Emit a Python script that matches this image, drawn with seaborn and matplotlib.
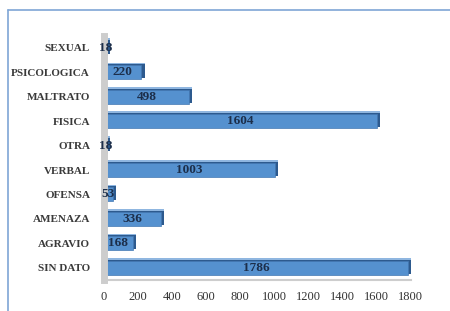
import pandas as pd
import seaborn as sns
import matplotlib.pyplot as plt
import matplotlib.patheffects as pe
from matplotlib.lines import Line2D

# Tipos de violencia y numero de casos (de arriba hacia abajo en la figura)
categorias = ["SEXUAL", "PSICOLOGICA", "MALTRATO", "FISICA", "OTRA",
              "VERBAL", "OFENSA", "AMENAZA", "AGRAVIO", "SIN DATO"]
casos = [18, 220, 498, 1604, 18, 1003, 53, 336, 168, 1786]
ticks_x = [0, 200, 400, 600, 800, 1000, 1200, 1400, 1600, 1800]

df = pd.DataFrame({"Tipo": categorias, "Casos": casos})

sns.set_style("white")
plt.rcParams["font.family"] = ["Liberation Serif", "DejaVu Serif"]

fig = plt.figure(figsize=(4.5, 3.11), dpi=100)
ax = fig.add_axes([0.231, 0.10, 0.682, 0.785])

sns.barplot(data=df, x="Casos", y="Tipo", orient="h", color="#5591cf",
            width=0.57, saturation=1, edgecolor="#4479b3", linewidth=0.5, ax=ax)

# efecto 3D sencillo: cara superior clara y cara lateral oscura
for p in ax.patches:
    p.set_path_effects([
        pe.SimplePatchShadow(offset=(2.2, 2.0), shadow_rgbFace="#8fb6e0", alpha=1),
        pe.SimplePatchShadow(offset=(2.2, 0.8), shadow_rgbFace="#2d5a8e", alpha=1),
        pe.Normal()])

ax.bar_label(ax.containers[0], labels=[str(v) for v in casos], label_type="center",
             fontsize=9.5, fontweight="bold", color="#1c2e4a")

ax.set_xlim(0, 1800)
ax.set_ylim(len(categorias) - 0.5, -0.5)
ax.set_xticks(ticks_x)
ax.set_xticklabels([str(t) for t in ticks_x], fontsize=9, color="#333333")
ax.tick_params(axis="y", labelsize=8, colors="#3a3a3a", pad=10, length=0)
ax.tick_params(axis="x", pad=8, length=0)
for lab in ax.get_yticklabels():
    lab.set_fontweight("bold")
ax.set_xlabel("")
ax.set_ylabel("")

# pared y piso grises
sns.despine(ax=ax, top=True, right=True)
ax.spines["left"].set_color("#cdcdcd")
ax.spines["left"].set_linewidth(5)
ax.spines["bottom"].set_color("#cdcdcd")
ax.spines["bottom"].set_linewidth(1.5)

# marco azul del grafico
fig.add_artist(Line2D([0.018, 0.018], [0.0, 0.968], color="#7fa6d6", lw=1.2))
fig.add_artist(Line2D([0.018, 1.0], [0.968, 0.968], color="#7fa6d6", lw=1.2))

plt.savefig("out.png", dpi=100)
